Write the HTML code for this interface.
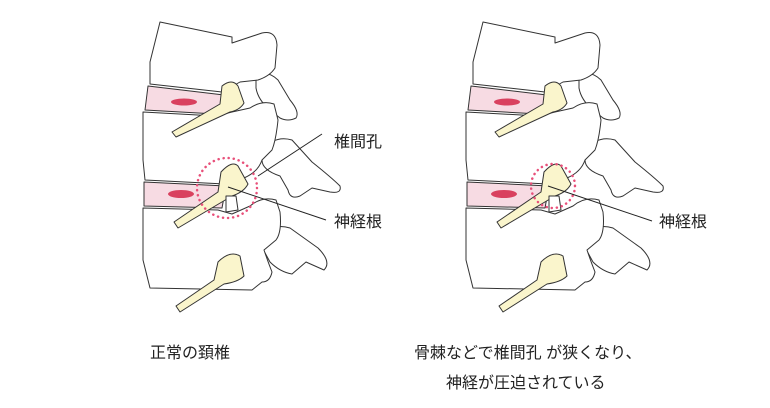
<!DOCTYPE html>
<html><head><meta charset="utf-8"><style>
html,body{margin:0;padding:0;background:#fff;width:770px;height:408px;overflow:hidden}
svg{display:block}
text{font-family:"Liberation Sans","Noto Sans CJK JP",sans-serif;font-size:16px;fill:#222}
</style></head><body>
<svg width="770" height="408" viewBox="0 0 770 408">
<defs>
<g id="spine" fill="#fff" stroke="#333" stroke-width="1" stroke-linejoin="round">
 <!-- posterior processes -->
 <path d="M256,75 Q268,70 278,80 L290,100 Q300,112 296,118 Q288,122 280,118 L270,110 Q258,100 256,88 Z"/>
 <path d="M262,150 Q275,135 292,140 L312,162 Q332,178 340,186 Q342,194 330,192 L312,188 L300,196 Q290,200 288,190 L280,176 Q262,170 262,160 Z"/>
 <path d="M258,240 Q270,222 290,228 L318,248 Q332,262 324,270 L306,262 L292,274 Q280,272 270,262 Z"/>
 <!-- bodies -->
 <path d="M160,22 L232,37 L232,43 L262,33 Q276,30 277,45 L275,68 Q270,76 258,80 L240,82 L222,92 L150,84 L150,62 Z"/>
 <path d="M143,112 L216,116 L232,112 L250,108 Q262,100 274,104 L278,120 Q276,140 272,150 L262,160 Q258,172 244,178 L232,178 L225,184 L145,180 L143,160 Z"/>
 <path d="M143,208 L218,210 L232,214 L250,206 Q262,196 276,200 L280,212 Q282,232 276,240 L264,250 Q268,262 272,272 Q270,282 262,282 L252,290 L150,288 L143,260 Z"/>
 <!-- discs -->
 <path d="M148,86 L224,95 L216,114 L145,110 Z" fill="#f7dbe3"/>
 <path d="M144,182 L226,186 L222,208 L144,206 Z" fill="#f7dbe3"/>
 <!-- nerve roots -->
 <g fill="#faf5cc">
 <path d="M222,86 Q232,78 238,86 L244,103 Q240,110 230,112 L176,137 L172,132 L220,104 Z"/>
 <path d="M221,172 Q232,160 238,166 L248,184 Q244,192 232,196 L178,228 L174,222 L218,192 Z"/>
 <path d="M218,262 Q230,250 240,256 L244,276 Q238,282 224,284 L180,312 L176,306 L214,280 Z"/>
 </g>
 <!-- small facet pieces -->
 <path d="M226,196 L236,196 L238,210 L226,212 Z"/>
 <ellipse cx="184" cy="102" rx="13" ry="3.5" fill="#d9415f" stroke="none"/>
 <ellipse cx="181" cy="194" rx="13" ry="4" fill="#d9415f" stroke="none"/>
</g>
</defs>
<use href="#spine"/>
<use href="#spine" transform="translate(323,0)"/>
<!-- left circle & labels -->
<circle cx="227" cy="188" r="30" fill="none" stroke="#e8507a" stroke-width="2.5" stroke-dasharray="0.1 5" stroke-linecap="round"/>
<line x1="258" y1="176" x2="322" y2="134" stroke="#222" stroke-width="1"/>
<line x1="228" y1="187" x2="326" y2="220" stroke="#222" stroke-width="1"/>
<text x="334" y="147">椎間孔</text>
<text x="334" y="227">神経根</text>
<!-- right -->
<circle cx="553" cy="186" r="22" fill="none" stroke="#e8507a" stroke-width="2.5" stroke-dasharray="0.1 5" stroke-linecap="round"/>
<line x1="548" y1="186" x2="652" y2="221" stroke="#222" stroke-width="1"/>
<text x="659" y="227">神経根</text>
<text x="150" y="358">正常の頚椎</text>
<text x="414" y="358">骨棘などで椎間孔 が狭くなり、</text>
<text x="446" y="388">神経が圧迫されている</text>
</svg>
</body></html>
